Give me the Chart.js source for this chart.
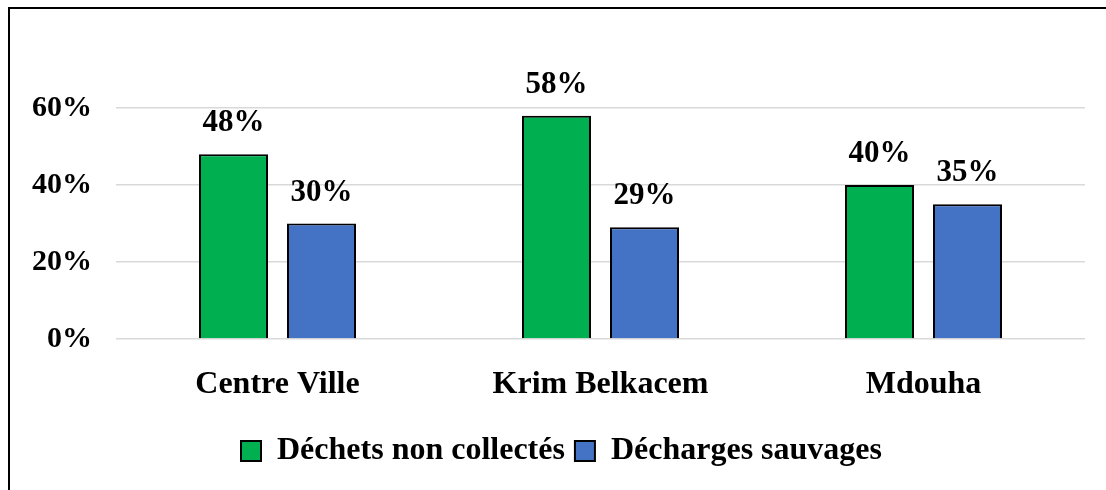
<!DOCTYPE html>
<html>
<head>
<meta charset="utf-8">
<script src="https://cdn.jsdelivr.net/npm/chart.js@4/dist/chart.umd.min.js"></script>
<style>
  html, body { margin: 0; padding: 0; background: #fff; }
  #wrap { position: relative; width: 1106px; height: 490px; overflow: hidden; }
  #frame { position: absolute; left: 8px; top: 7px; width: 1120px; height: 520px;
           border-top: 2px solid #000; border-left: 2px solid #000; box-sizing: border-box; pointer-events: none; }
  canvas { position: absolute; left: 0; top: 0; }
</style>
</head>
<body>
<div id="wrap">
  <canvas id="c" width="1106" height="490"></canvas>
  <div id="frame"></div>
</div>
<script>
const categories = ["Centre Ville", "Krim Belkacem", "Mdouha"];
const seriesNames = ["Déchets non collectés", "Décharges sauvages"];
const dechetsNonCollectes = [48, 58, 40];
const dechargesSauvages = [30, 29, 35];
const yTicks = [0, 20, 40, 60];

const FONT = "'Liberation Serif', 'Times New Roman', serif";

const dataLabels = {
  id: 'dataLabels',
  afterDatasetsDraw(chart) {
    const ctx = chart.ctx;
    ctx.save();
    ctx.font = "bold 31px " + FONT;
    ctx.fillStyle = "#000";
    ctx.textAlign = "center";
    ctx.textBaseline = "alphabetic";
    chart.data.datasets.forEach((ds, i) => {
      chart.getDatasetMeta(i).data.forEach((bar, j) => {
        ctx.fillText(ds.data[j] + "%", bar.x, bar.y - 23);
      });
    });
    ctx.restore();
  }
};

const legendShift = {
  id: 'legendShift',
  afterLayout(chart) {
    if (chart.legend) { chart.legend.left += 19; chart.legend.right += 19; }
  }
};

new Chart(document.getElementById('c'), {
  type: 'bar',
  data: {
    labels: categories,
    datasets: [
      { label: seriesNames[0], data: dechetsNonCollectes, backgroundColor: '#00B050', borderColor: '#000', borderWidth: 2 },
      { label: seriesNames[1], data: dechargesSauvages, backgroundColor: '#4472C4', borderColor: '#000', borderWidth: 2 }
    ]
  },
  options: {
    responsive: false,
    animation: false,
    devicePixelRatio: 1,
    categoryPercentage: 0.545,
    barPercentage: 0.784,
    layout: { padding: { top: 108, right: 21, left: 0, bottom: 13 } },
    plugins: {
      tooltip: { enabled: false },
      legend: {
        position: 'bottom',
        labels: {
          font: { family: FONT, size: 32, weight: 'bold' },
          color: '#000',
          boxWidth: 20,
          boxHeight: 20,
          padding: 10
        }
      }
    },
    scales: {
      x: {
        grid: { display: false },
        border: { display: false },
        ticks: { font: { family: FONT, size: 32, weight: 'bold' }, color: '#000', padding: 19 },
        afterFit(s) { s.height = 86; }
      },
      y: {
        min: 0, max: 60,
        afterBuildTicks(s) { s.ticks = yTicks.map(v => ({ value: v })); },
        grid: { color: '#d9d9d9', lineWidth: 1.5, drawTicks: false },
        border: { display: false },
        ticks: {
          font: { family: FONT, size: 30, weight: 'bold' }, color: '#000', padding: 24,
          callback: v => v + '%'
        },
        afterFit(s) { s.width = 116; }
      }
    }
  },
  plugins: [dataLabels, legendShift]
});
</script>
</body>
</html>
